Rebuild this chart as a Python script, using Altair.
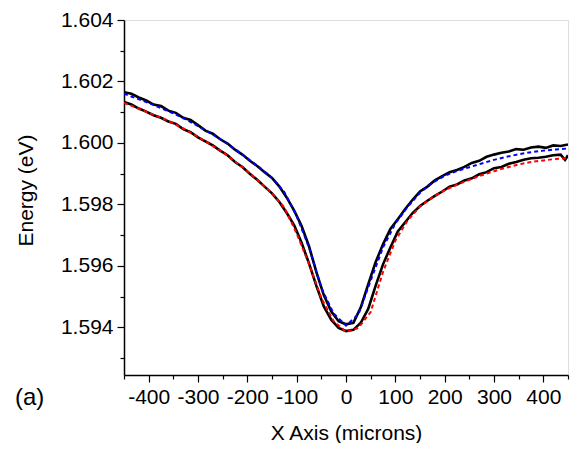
import altair as alt
import pandas as pd

# Fit curves (dashed), x in microns
fit_x = [-450, -425, -400, -375, -350, -325, -300, -275, -250, -225, -200, -175, -150, -125,
         -100, -75, -50, -25, 0, 25, 50, 75, 100, 125, 150, 175, 200, 225, 250, 275, 300,
         325, 350, 375, 400, 425, 450]
fit_blue = [1.60160, 1.60145, 1.60130, 1.60113, 1.60096, 1.60077, 1.60055, 1.60032, 1.60008,
            1.59980, 1.59950, 1.59920, 1.59886, 1.59840, 1.59762, 1.59660, 1.59528, 1.59445,
            1.59406, 1.59442, 1.59552, 1.59660, 1.59738, 1.59792, 1.59838, 1.59870, 1.59893,
            1.59909, 1.59921, 1.59933, 1.59945, 1.59955, 1.59963, 1.59970, 1.59975, 1.59979,
            1.59982]
fit_red = [1.60130, 1.60115, 1.60098, 1.60082, 1.60064, 1.60043, 1.60020, 1.59995, 1.59970,
           1.59940, 1.59908, 1.59873, 1.59836, 1.59790, 1.59705, 1.59606, 1.59495, 1.59420,
           1.59385, 1.59398, 1.59450, 1.59580, 1.59682, 1.59748, 1.59793, 1.59823, 1.59846,
           1.59864, 1.59880, 1.59895, 1.59908, 1.59920, 1.59930, 1.59938, 1.59943, 1.59948,
           1.59951]

# Measured data (solid black)
upper_x = [-450, -435, -420, -405, -390, -375, -360, -345, -330, -315, -300, -285, -270, -255,
           -240, -225, -210, -195, -180, -165, -150, -135, -120, -105, -90, -75, -60, -45, -30,
           -15, 0, 15, 30, 45, 60, 75, 90, 105, 120, 135, 150, 165, 180, 195, 210, 225, 240,
           255, 270, 285, 300, 315, 330, 345, 360, 375, 390, 405, 420, 435, 450]
upper_y = [1.60165, 1.60160, 1.60148, 1.60138, 1.60125, 1.60120, 1.60105, 1.60098, 1.60082,
           1.60075, 1.60058, 1.60040, 1.60030, 1.60012, 1.59998, 1.59978, 1.59962, 1.59942,
           1.59925, 1.59905, 1.59886, 1.59858, 1.59822, 1.59780, 1.59730, 1.59664, 1.59580,
           1.59505, 1.59452, 1.59420, 1.59410, 1.59415, 1.59465, 1.59540, 1.59612, 1.59670,
           1.59720, 1.59752, 1.59785, 1.59815, 1.59842, 1.59858, 1.59878, 1.59892, 1.59905,
           1.59912, 1.59922, 1.59935, 1.59942, 1.59955, 1.59962, 1.59968, 1.59972, 1.59980,
           1.59978, 1.59985, 1.59988, 1.59984, 1.59992, 1.59990, 1.59995]
lower_x = [-450, -435, -420, -405, -390, -375, -360, -345, -330, -315, -300, -285, -270, -255,
           -240, -225, -210, -195, -180, -165, -150, -135, -120, -105, -90, -75, -60, -45, -30,
           -15, 0, 15, 30, 45, 60, 75, 90, 105, 120, 135, 150, 165, 180, 195, 210, 225, 240,
           255, 270, 285, 300, 315, 330, 345, 360, 375, 390, 405, 420, 435, 444, 450]
lower_y = [1.60133, 1.60125, 1.60112, 1.60102, 1.60090, 1.60082, 1.60070, 1.60062, 1.60045,
           1.60035, 1.60018, 1.60005, 1.59992, 1.59975, 1.59960, 1.59938, 1.59922, 1.59900,
           1.59880, 1.59858, 1.59836, 1.59808, 1.59772, 1.59732, 1.59675, 1.59608, 1.59535,
           1.59468, 1.59425, 1.59398, 1.59388, 1.59392, 1.59415, 1.59460, 1.59535, 1.59605,
           1.59660, 1.59712, 1.59742, 1.59772, 1.59795, 1.59812, 1.59828, 1.59842, 1.59858,
           1.59865, 1.59878, 1.59885, 1.59898, 1.59905, 1.59918, 1.59922, 1.59932, 1.59938,
           1.59945, 1.59950, 1.59952, 1.59955, 1.59960, 1.59962, 1.59945, 1.59960]

x_ticks = [-450, -400, -350, -300, -250, -200, -150, -100, -50, 0, 50, 100, 150, 200, 250,
           300, 350, 400, 450]
y_ticks = [1.593, 1.594, 1.595, 1.596, 1.597, 1.598, 1.599, 1.600, 1.601, 1.602, 1.603, 1.604]

FONT = "Liberation Sans"

x_scale = alt.Scale(domain=[-450, 450], nice=False, zero=False)
y_scale = alt.Scale(domain=[1.59245, 1.604], nice=False, zero=False)

x_axis = alt.Axis(
    values=x_ticks,
    labelExpr="datum.value % 100 == 0 ? '' + datum.value : ''",
    labelOverlap=False, labelFontSize=21, labelFont=FONT, labelColor="black",
    labelPadding=4,
    tickSize={"condition": {"test": "datum.value % 100 != 0", "value": 4}, "value": 7},
    tickColor="black", tickWidth=1.2, domainColor="black", domainWidth=1.5,
    grid=False, title="X Axis (microns)", titleFontSize=21, titleFont=FONT,
    titleFontWeight="normal", titleColor="black", titleY=58, titleBaseline="middle",
)
y_axis = alt.Axis(
    values=y_ticks, format=".3f",
    labelExpr="round(datum.value * 1000) % 2 == 1 ? '' : datum.label",
    labelOverlap=False, labelFontSize=21, labelFont=FONT, labelColor="black",
    labelPadding=4,
    tickSize={"condition": {"test": "round(datum.value * 1000) % 2 == 1", "value": 4}, "value": 7},
    tickColor="black", tickWidth=1.2, domainColor="black", domainWidth=1.5,
    grid=False, title="Energy (eV)", titleFontSize=21, titleFont=FONT,
    titleFontWeight="normal", titleColor="black", titleX=-98, titleY=170,
    titleAngle=270, titleBaseline="middle", titleAlign="center",
)

def line(xs, ys, color, width, dash=None):
    df = pd.DataFrame({"x": xs, "y": ys})
    kw = dict(color=color, strokeWidth=width, clip=True)
    if dash:
        kw["strokeDash"] = dash
    return alt.Chart(df).mark_line(**kw).encode(
        x=alt.X("x:Q", scale=x_scale, axis=x_axis),
        y=alt.Y("y:Q", scale=y_scale, axis=y_axis),
    )

label_df = pd.DataFrame({"t": ["(a)"]})
label = alt.Chart(label_df).mark_text(
    align="left", baseline="middle", fontSize=24, font=FONT, color="black"
).encode(x=alt.value(-109), y=alt.value(378), text="t:N")

chart = alt.layer(
    line(upper_x, upper_y, "black", 2.6),
    line(lower_x, lower_y, "black", 2.6),
    line(fit_x, fit_blue, "#0000ff", 2, [4, 3]),
    line(fit_x, fit_red, "#ff0000", 2, [4, 3]),
    label,
).properties(
    width=444, height=355,
    autosize=alt.AutoSizeParams(type="none"),
    padding={"left": 116, "top": 12, "right": 2, "bottom": 68},
).configure_view(stroke=None).configure(background="white")

chart.save("out.html", embed_options={"renderer": "svg", "actions": False})
